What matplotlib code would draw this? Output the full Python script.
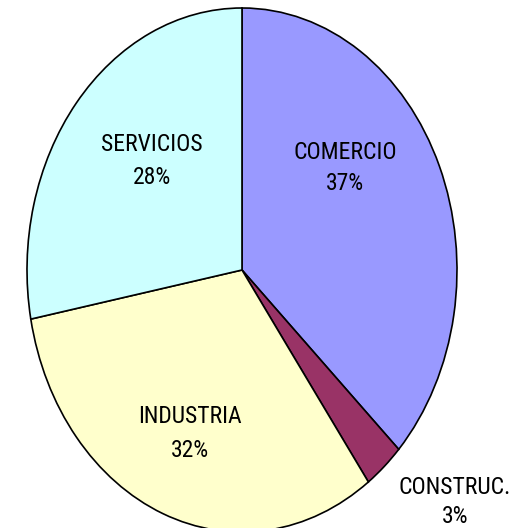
import matplotlib

matplotlib.use("Agg")

import matplotlib.pyplot as plt  # noqa: E402

# data
sectors = ["COMERCIO", "CONSTRUC.", "INDUSTRIA", "SERVICIOS"]
shares = [37, 3, 32, 28]
colors = ["#9999FF", "#993366", "#FFFFCC", "#CCFFFF"]

# label baselines in pixels (x centre, y from top) for name / percentage
name_pos = [(345, 159), (455, 494), (190, 423), (152, 151)]
pct_pos = [(345, 190), (455, 523), (190, 457), (152, 184)]

W, H = 529, 528
fig = plt.figure(figsize=(W / 100, H / 100), dpi=100)
# pie is stretched into an ellipse: centre (242, 270), radii 215 x 262 px
cx, cy, rx, ry = 242, 270, 215, 262
ax = fig.add_axes([(cx - rx) / W, (H - cy - ry) / H, 2 * rx / W, 2 * ry / H])
ax.pie(shares, colors=colors, startangle=90, counterclock=False,
       wedgeprops=dict(edgecolor="black", linewidth=1.2))
ax.set_aspect("auto")
ax.set_xlim(-1, 1)
ax.set_ylim(-1, 1)
ax.axis("off")

# narrow sans, close to the Arial Narrow of the original
font = dict(family=["Roboto Condensed", "Liberation Sans"], fontsize=17,
            ha="center", va="baseline", transform=fig.transFigure)
for name, pct, (nx, ny), (px, py) in zip(sectors, shares, name_pos, pct_pos):
    fig.text(nx / W, 1 - ny / H, name, **font)
    fig.text(px / W, 1 - py / H, f"{pct}%", **font)

fig.savefig("out.png", dpi=100)
plt.close(fig)
